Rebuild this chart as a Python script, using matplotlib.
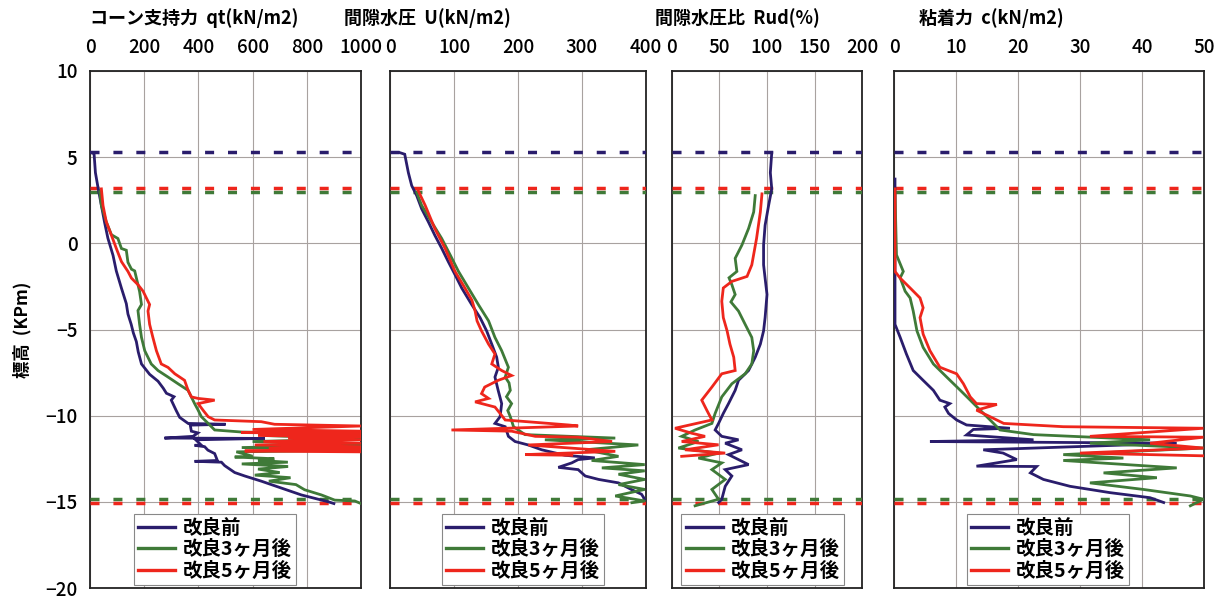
import matplotlib
matplotlib.use("Agg")
import matplotlib.pyplot as plt
from matplotlib.lines import Line2D

plt.rcParams['font.family'] = ['Noto Sans CJK JP', 'DejaVu Sans']

NAVY = '#2a1d6c'
GREEN = '#3f7a38'
RED = '#ee261c'
GRID = '#a8a2a0'

series_labels = ['改良前', '改良3ヶ月後', '改良5ヶ月後']

# ---- cone resistance qt (kN/m2) ----
qt_before_elev = [5.3, 5.2, 4.1, 3.2, 2.2, 1.2, 0.3, -0.7, -1.6, -2.6, -3.5, -4.1, -4.7, -5.2, -5.7,
                  -6.3, -7.0, -7.3, -7.6, -8.0, -8.4, -8.7, -8.9, -9.1, -9.3, -9.7, -10.1, -10.45,
                  -10.5, -10.55, -10.9, -11.0, -11.2, -11.3, -11.32, -11.4, -11.7, -11.72, -11.8,
                  -12.0, -12.2, -12.6, -12.65, -12.7, -12.9, -13.3, -13.5, -13.8, -14.2, -14.6,
                  -15.0, -15.1]
qt_before = [0, 15, 20, 30, 42, 54, 66, 85, 97, 116, 134, 140, 152, 160, 171,
             178, 190, 205, 220, 251, 270, 282, 310, 300, 306, 318, 331, 362,
             500, 370, 374, 398, 380, 275, 645, 390, 410, 386, 423,
             435, 460, 470, 386, 485, 497, 534, 571, 632, 706, 780,
             880, 900]

qt_3m_elev = [3.0, 2.2, 1.25, 0.5, 0.28, -0.3, -0.4, -1.1, -1.5, -1.6, -2.4, -2.8, -3.55, -3.9, -4.7,
              -5.46, -6.23, -7.0, -7.38, -7.76, -8.15, -8.53, -9.3, -9.68, -10.06, -10.45, -10.83,
              -10.95, -11.05, -11.15, -11.35, -11.5, -11.7, -11.85, -12.0, -12.1, -12.35, -12.4,
              -12.5, -12.6, -12.7, -12.8, -12.95, -13.1, -13.3, -13.45, -13.6, -13.8, -14.0,
              -14.3, -14.6, -14.9, -14.95, -15.1]
qt_3m = [36, 42, 60, 79, 103, 116, 134, 140, 153, 165, 177, 183, 190, 177, 183,
         190, 202, 226, 251, 288, 325, 362, 386, 399, 411, 436, 460,
         560, 1000, 640, 1000, 600, 1000, 560, 1000, 540, 600, 534,
         680, 620, 730, 560, 731, 620, 700, 608, 740, 660, 760,
         792, 854, 903, 977, 1000]

qt_5m_elev = [3.16, 2.2, 1.25, 0.47, -0.29, -1.06, -1.63, -2.02, -2.4, -2.78, -3.17, -3.55, -3.93,
              -4.7, -5.46, -6.23, -7.0, -7.2, -7.57, -7.95, -8.53, -8.91, -9.0, -9.1, -9.3, -9.68,
              -10.06, -10.25, -10.35, -10.5, -10.6, -10.8, -10.9, -10.98, -11.05, -11.15, -11.22,
              -11.3, -11.4, -11.5, -11.6, -11.7, -11.8, -11.9, -11.95, -12.05, -12.1]
qt_5m = [42, 48, 60, 79, 97, 116, 140, 153, 177, 196, 208, 220, 214,
         220, 232, 245, 263, 288, 313, 349, 362, 374, 399, 460, 399, 417,
         436, 460, 632, 681, 1000, 600, 1000, 558, 1000, 620, 1000,
         731, 1000, 640, 1000, 608, 1000, 660, 1000, 571, 1000]

# ---- pore water pressure U (kN/m2) ----
u_before_elev = [5.26, 5.17, 4.1, 3.35, 2.77, 2.0, 1.24, 0.47, -0.29, -1.06, -1.82, -2.59, -3.55,
                 -4.31, -5.08, -5.85, -6.61, -7.19, -7.76, -8.53, -9.3, -10.06, -10.45, -10.64,
                 -11.2, -11.5, -11.7, -11.98, -12.3, -12.45, -12.55, -12.74, -13.0, -13.13, -13.5,
                 -13.7, -13.9, -14.3, -14.56, -14.85]
u_before = [15.6, 23, 28.7, 33.9, 41.7, 49.5, 60, 70, 80.8, 91, 101.6, 112, 127.6,
            140.7, 151, 159, 166.7, 169.3, 164, 169, 174.5, 172, 164, 180,
            185, 195.4, 216, 237, 273.6, 320, 294, 284, 263, 294, 305,
            326, 357, 378, 393, 398]

u_3m_elev = [2.96, 2.2, 1.24, 0.28, -0.67, -1.63, -2.59, -3.55, -4.5, -5.46, -6.23, -7.19, -7.76,
             -8.1, -8.53, -8.9, -9.3, -9.7, -10.06, -10.64, -11.1, -11.3, -11.4, -11.7, -11.98,
             -12.36, -12.6, -12.84, -13.03, -13.2, -13.4, -13.7, -14.0, -14.28, -14.66, -14.95,
             -15.05]
u_3m = [41.7, 49.5, 65, 80.8, 94, 107, 122.5, 138, 154, 164, 174.5, 185, 180,
        186, 188, 182, 190, 184, 188, 193, 211, 352, 242, 388, 305,
        357, 315, 398, 331, 398, 357, 398, 357, 398, 352, 398,
        378]

u_5m_elev = [3.06, 2.2, 0.86, -0.29, -1.63, -2.59, -3.3, -3.93, -4.5, -5.08, -5.85, -6.42, -7.0,
             -7.38, -7.67, -7.95, -8.34, -8.72, -9.0, -9.2, -9.5, -9.87, -10.25, -10.54, -10.6,
             -10.83, -10.9, -11.2, -11.25, -11.5, -11.7, -12.07, -12.26, -12.3]
u_5m = [44, 55, 70, 86, 101.6, 117, 128, 133, 136, 143, 154, 164, 159,
        174.5, 190, 169, 148, 143, 154, 133, 164, 172, 180, 279, 294,
        96, 190, 227, 294, 347, 216, 352, 211, 284]

# ---- pore pressure ratio Rud (%) ----
rud_before_elev = [5.26, 4.1, 3.16, 2.2, 1.05, -0.1, -1.25, -2.02, -2.97, -4.31, -5.08, -5.85, -6.61,
                   -7.38, -7.95, -8.53, -9.3, -9.87, -10.45, -10.83, -11.2, -11.4, -11.6, -11.98,
                   -12.26, -12.84, -13.13, -13.5, -14.1, -14.85, -15.04]
rud_before = [105, 103.5, 105, 101.7, 98, 96.4, 96.4, 98, 100, 98, 96.4, 93, 87.6,
              80.6, 70, 66.5, 59.5, 54, 49, 45.4, 52.4, 70, 56, 73.6,
              59.5, 80.6, 56, 63, 56, 52.4, 49]

rud_3m_elev = [2.77, 1.82, 0.86, -0.1, -0.87, -1.63, -2.0, -2.4, -2.97, -3.4, -3.93, -4.7, -5.46,
               -6.23, -7.0, -7.57, -8.15, -8.91, -9.87, -10.45, -10.83, -11.2, -11.5, -11.88,
               -12.17, -12.46, -12.74, -13.13, -13.7, -14.28, -14.85, -15.23]
rud_3m = [87.6, 86, 80.6, 73.6, 66.5, 68.3, 60, 63, 66.5, 62, 70, 77, 84,
          86, 84, 77, 63, 52.4, 45.4, 42, 24.3, 10.2, 27.8, 6.7,
          49, 27.8, 52.4, 42, 56, 42, 49, 24.3]

rud_5m_elev = [2.87, 1.82, 0.28, -1.25, -1.92, -2.21, -2.59, -3.36, -4.31, -5.08, -5.85, -6.61,
               -7.38, -7.57, -8.34, -9.1, -9.68, -10.25, -10.73, -11.02, -11.2, -11.5, -11.69,
               -11.98, -12.17, -12.36]
rud_5m = [94.7, 93, 89, 84, 79, 63, 54, 52.4, 54, 58, 61, 65,
          66.5, 52.4, 42, 31.3, 36.6, 42, 3.2, 20.8, 34.8, 10.2, 49,
          13.7, 56, 10.2]

# ---- cohesion c (kN/m2) ----
c_before_elev = [3.73, 0.28, -4.7, -5.46, -6.42, -7.38, -7.95, -8.53, -9.1, -9.3, -9.5, -9.87,
                 -10.25, -10.54, -10.73, -10.8, -11.12, -11.4, -11.5, -11.6, -11.98, -12.17,
                 -12.55, -12.93, -12.95, -13.32, -13.7, -14.1, -14.47, -14.76, -15.04]
c_before = [0.16, 0.16, 0.16, 1.0, 2.0, 3.1, 4.7, 6.35, 7.4, 9.0, 8.2, 8.8,
            10.1, 11.7, 18.7, 12.8, 11.7, 22.5, 5.8, 45.6, 14.4, 17.6,
            19.8, 13.3, 23.0, 22, 24.1, 28.4, 34.9, 41.3, 43.5]

c_3m_elev = [2.96, -0.67, -1.63, -2.0, -2.78, -3.17, -3.93, -5.08, -6.04, -7.0, -7.76, -8.53, -9.1,
             -9.68, -10.25, -10.83, -11.1, -11.4, -11.6, -11.88, -12.26, -12.46, -12.6, -13.03,
             -13.32, -13.6, -13.9, -14.28, -14.66, -14.85, -15.23]
c_3m = [0.16, 0.4, 1.5, 1.0, 1.8, 2.6, 3.1, 3.7, 4.7, 6.35, 8.5, 10.7, 12.3,
        13.9, 15.5, 17.1, 22.5, 41.3, 31.6, 49.9, 27.3, 37.0, 27.3, 45.6,
        33.8, 42.4, 31.6, 40.2, 47.8, 49.9, 47.8]

c_5m_elev = [3.16, -1.63, -2.02, -2.59, -3.17, -3.74, -4.31, -5.27, -6.23, -7.19, -7.57, -8.15,
             -8.91, -9.3, -9.35, -9.68, -10.06, -10.45, -10.64, -10.73, -11.2, -11.25, -11.6,
             -11.88, -12.17, -12.33]
c_5m = [0.16, 0.16, 1.0, 2.6, 4.2, 4.7, 4.2, 4.7, 5.8, 7.4, 10.1, 11.2,
        12.3, 13.3, 16.6, 13.3, 15.5, 17.7, 27.3, 49.9, 31.6, 49.9, 41.3,
        49.9, 30, 49.9]

# reference levels (dashed)
level_before = [5.3]
level_3m = [3.0, -14.85]
level_5m = [3.2, -15.05]

panels = [
    dict(title='コーン支持力  qt(kN/m2)', xmax=1000, xticks=[0, 200, 400, 600, 800, 1000],
         data=[(qt_before, qt_before_elev), (qt_3m, qt_3m_elev), (qt_5m, qt_5m_elev)],
         rect=[90, 271], title_x=194, leg_x=0.162),
    dict(title='間隙水圧  U(kN/m2)', xmax=400, xticks=[0, 100, 200, 300, 400],
         data=[(u_before, u_before_elev), (u_3m, u_3m_elev), (u_5m, u_5m_elev)],
         rect=[390, 256], title_x=427, leg_x=0.203),
    dict(title='間隙水圧比  Rud(%)', xmax=200, xticks=[0, 50, 100, 150, 200],
         data=[(rud_before, rud_before_elev), (rud_3m, rud_3m_elev), (rud_5m, rud_5m_elev)],
         rect=[672, 190], title_x=737, leg_x=0.05),
    dict(title='粘着力  c(kN/m2)', xmax=50, xticks=[0, 10, 20, 30, 40, 50],
         data=[(c_before, c_before_elev), (c_3m, c_3m_elev), (c_5m, c_5m_elev)],
         rect=[894, 310], title_x=991, leg_x=0.235),
]

W, H = 1215, 600
fig = plt.figure(figsize=(W / 100, H / 100), dpi=100)
top_px, bot_px = 71, 588

colors = [NAVY, GREEN, RED]
for i, p in enumerate(panels):
    x0, w = p['rect']
    ax = fig.add_axes([x0 / W, 1 - bot_px / H, w / W, (bot_px - top_px) / H])
    ax.set_xlim(0, p['xmax'])
    ax.set_ylim(-20, 10)
    ax.set_xticks(p['xticks'])
    ax.set_yticks([-20, -15, -10, -5, 0, 5, 10])
    ax.xaxis.tick_top()
    ax.tick_params(axis='x', length=0, pad=10, labelsize=13.5)
    ax.tick_params(axis='y', length=0, pad=9, labelsize=13.5)
    for lbl in ax.get_xticklabels() + ax.get_yticklabels():
        lbl.set_fontweight('medium')
    if i > 0:
        ax.set_yticklabels([])
    ax.grid(True, color=GRID, lw=0.8)
    ax.set_axisbelow(True)
    for s in ax.spines.values():
        s.set_linewidth(1.3)
        s.set_color('#222222')

    for lv, col in [(level_before, NAVY), (level_3m, GREEN), (level_5m, RED)]:
        for y in lv:
            ax.axhline(y, color=col, lw=2.5, ls=(0, (2.6, 4.0)), zorder=3)

    for (vals, elev), col in zip(p['data'], colors):
        ax.plot(vals, elev, color=col, lw=2.0, zorder=4, solid_joinstyle='miter')

    handles = [Line2D([], [], color=c, lw=2.4) for c in colors]
    leg = ax.legend(handles, series_labels, loc='lower left',
                    bbox_to_anchor=(p['leg_x'], 0.006), borderaxespad=0,
                    fancybox=False, framealpha=1, edgecolor='#888888',
                    prop=dict(size=14, weight='bold'), handlelength=1.9,
                    handletextpad=0.4, labelspacing=0.12, borderpad=0.22)
    leg.get_frame().set_linewidth(0.8)
    leg.set_zorder(10)

    fig.text(p['title_x'] / W, 1 - 18 / H, p['title'], ha='center', va='center',
             fontsize=13, fontweight='bold')

fig.text(22 / W, 1 - 330 / H, '標高  (KPm)', rotation=90, ha='center', va='center',
         fontsize=12.5, fontweight='bold')

fig.savefig('out.png', dpi=100)
